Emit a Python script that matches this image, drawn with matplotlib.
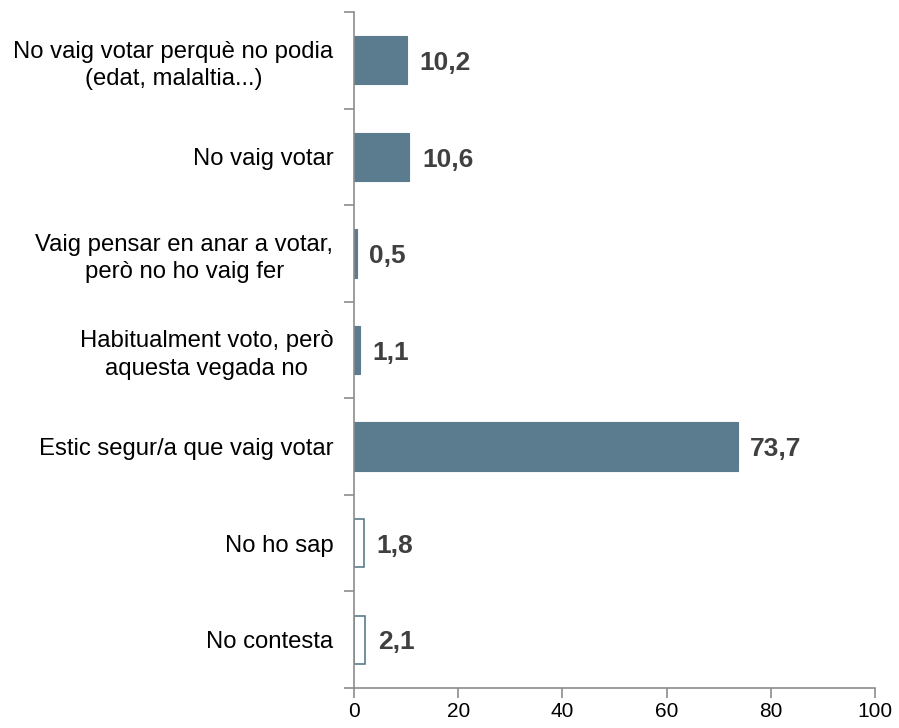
import matplotlib.pyplot as plt
import numpy as np

categories = ["No vaig votar perquè no podia\n(edat, malaltia...)",
              "No vaig votar",
              "Vaig pensar en anar a votar,\nperò no ho vaig fer",
              "Habitualment voto, però\naquesta vegada no",
              "Estic segur/a que vaig votar",
              "No ho sap",
              "No contesta"]
values = [10.2, 10.6, 0.5, 1.1, 73.7, 1.8, 2.1]
filled = [True, True, True, True, True, False, False]

plt.rcParams['font.family'] = ['Liberation Sans', 'DejaVu Sans']

BAR = "#5B7B8E"
AXC = "#8C8C8C"

fig = plt.figure(figsize=(8.99, 7.28), dpi=100)
ax = fig.add_axes([0.394, 0.055, 0.579, 0.9285])

y = np.arange(len(categories))
for yi, v, f in zip(y, values, filled):
    if f:
        ax.barh(yi, v, height=0.5, color=BAR, edgecolor=BAR, linewidth=0.8)
    else:
        ax.barh(yi, v, height=0.5, color="white", edgecolor=BAR, linewidth=1.2)
    ax.annotate("{:.1f}".format(v).replace(".", ","), xy=(v, yi), xytext=(9, -2),
                textcoords="offset points", va="center", ha="left",
                fontsize=19, fontweight="bold", color="#404040")

ax.set_xlim(0, 100)
ax.set_ylim(len(categories) - 0.5, -0.5)
ax.set_yticks(y)
ax.set_yticklabels(categories, fontsize=17.2, ha="right", multialignment="center",
                   color="black", linespacing=1.3)
ax.tick_params(axis="y", which="major", length=0, pad=15)
ax.set_yticks(np.arange(-0.5, len(categories)), minor=True)
ax.tick_params(axis="y", which="minor", length=7, color=AXC, width=1.2)
ax.set_xticks(np.arange(0, 101, 20))
ax.tick_params(axis="x", length=7, color=AXC, width=1.2, labelsize=15, pad=3)

for s in ["top", "right"]:
    ax.spines[s].set_visible(False)
for s in ["left", "bottom"]:
    ax.spines[s].set_color(AXC)
    ax.spines[s].set_linewidth(1.2)

fig.savefig("out.png", dpi=100)
